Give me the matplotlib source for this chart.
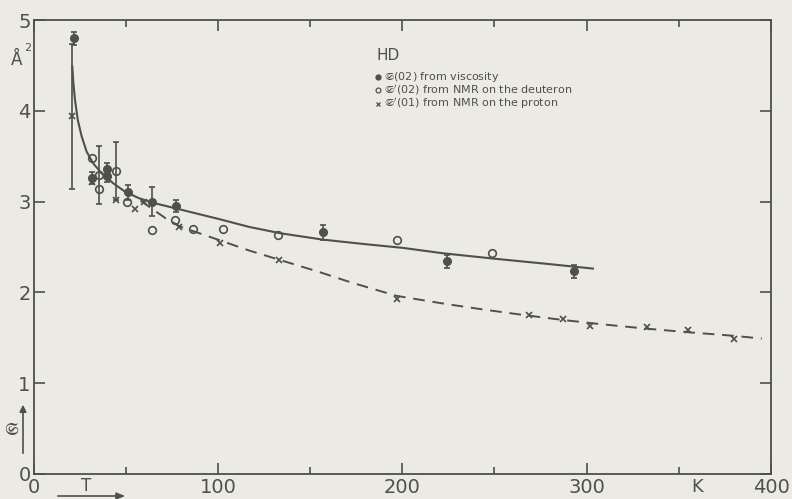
import numpy as np
import matplotlib
matplotlib.use("Agg")
import matplotlib.pyplot as plt
from matplotlib.lines import Line2D
from matplotlib.patches import FancyArrowPatch
from matplotlib.ticker import MultipleLocator

# ---------------- data ----------------
# viscosity (filled circles)
visc_T = [22, 31.5, 40, 40, 51, 64, 77.5, 157, 224, 293]
visc_S = [4.80, 3.26, 3.36, 3.28, 3.10, 3.00, 2.95, 2.66, 2.34, 2.23]
visc_err = [0.07, 0.07, 0.06, 0.06, 0.08, 0.16, 0.07, 0.08, 0.07, 0.07]

# NMR on the deuteron (open circles)
deut_T = [31.5, 35.5, 35.5, 44.7, 50.5, 64, 77, 86.5, 103, 132.5, 197, 248.5]
deut_S = [3.48, 3.29, 3.14, 3.34, 2.99, 2.69, 2.80, 2.70, 2.70, 2.63, 2.58, 2.43]
deut_err = [0, 0.32, 0, 0.32, 0, 0, 0, 0, 0, 0, 0, 0]

# NMR on the proton (crosses)
prot_T = [21, 31.5, 44.7, 55, 60, 79, 101, 133, 197, 269, 287, 302, 333, 355, 380]
prot_S = [3.94, 3.22, 3.02, 2.92, 3.00, 2.72, 2.54, 2.36, 1.93, 1.75, 1.71, 1.63, 1.62, 1.58, 1.49]
prot_err = [0.80, 0, 0, 0, 0, 0, 0, 0, 0, 0, 0, 0, 0, 0, 0]

# solid curve (viscosity)
fit1_T = [21.0, 21.6, 22.5, 24, 26.1, 28.8, 32.4, 37, 43.3, 49.6, 56.8, 64, 80, 100,
          117, 134, 157, 180, 200, 222, 250, 280, 304]
fit1_S = [4.50, 4.31, 4.12, 3.90, 3.72, 3.55, 3.42, 3.31, 3.20, 3.11, 3.04, 2.99, 2.91, 2.81,
          2.72, 2.65, 2.58, 2.53, 2.49, 2.43, 2.37, 2.31, 2.26]

# dashed curve (proton)
fit2_T = [58, 65, 72, 80, 90, 100, 117, 133, 154, 172, 197, 224, 244, 262, 285, 307,
          332, 355, 380, 395]
fit2_S = [3.01, 2.91, 2.81, 2.72, 2.65, 2.58, 2.46, 2.36, 2.23, 2.11, 1.96, 1.87, 1.81,
          1.76, 1.70, 1.65, 1.60, 1.56, 1.52, 1.49]

xticks = [0, 100, 200, 300, 400]
yticks = [0, 1, 2, 3, 4, 5]
labels = [r"$\mathfrak{S}$(02) from viscosity",
          r"$\mathfrak{S}'$(02) from NMR on the deuteron",
          r"$\mathfrak{S}'$(01) from NMR on the proton"]

# ---------------- style ----------------
BG = "#ecebe3"
INK = "#4f4f4b"
W, H = 792, 499

fig = plt.figure(figsize=(W / 100, H / 100), dpi=100, facecolor=BG)
ax = fig.add_axes([33.5 / W, 1 - 473.8 / H, (771 - 33.5) / W, (473.8 - 20) / H])
ax.set_facecolor(BG)

def fx(px):
    return px / W

def fy(py):
    return 1 - py / H

# curves
ax.plot(fit1_T, fit1_S, color=INK, lw=1.5, solid_capstyle="butt")
ax.plot(fit2_T, fit2_S, color=INK, lw=1.4, linestyle=(0, (6, 4)))

# error bars
vT, vS, vE = map(np.asarray, (visc_T, visc_S, visc_err))
dT, dS, dE = map(np.asarray, (deut_T, deut_S, deut_err))
pT, pS, pE = map(np.asarray, (prot_T, prot_S, prot_err))

ax.errorbar(vT, vS, yerr=vE, fmt="none", ecolor=INK, elinewidth=1.2, capsize=2.5, capthick=1.2)
m = dE > 0
ax.errorbar(dT[m], dS[m], yerr=dE[m], fmt="none", ecolor=INK, elinewidth=1.2, capsize=2.5, capthick=1.2)
m = pE > 0
ax.errorbar(pT[m], pS[m], yerr=pE[m], fmt="none", ecolor=INK, elinewidth=1.2, capsize=2.5, capthick=1.2)

# markers
ax.plot(vT, vS, "o", color=INK, ms=5.5, mec=INK)
ax.plot(dT, dS, "o", mfc="none", mec=INK, ms=5.5, mew=1.2)
ax.plot(pT, pS, "x", color=INK, ms=4.5, mew=1.2)

# axes
ax.set_xlim(0, 400)
ax.set_ylim(0, 5)
ax.set_xticks(xticks)
ax.set_yticks(yticks)
ax.xaxis.set_minor_locator(MultipleLocator(50))
for s in ax.spines.values():
    s.set_color(INK)
    s.set_linewidth(1.3)
ax.tick_params(which="both", direction="in", top=True, right=True, color=INK, width=1.2)
ax.tick_params(which="major", length=8, labelsize=14, labelcolor=INK)
ax.tick_params(which="minor", length=5)
ax.tick_params(axis="x", pad=3)
ax.tick_params(axis="y", pad=2)

# legend (manual)
fig.text(fx(376), fy(56), "HD", fontsize=11, color=INK, ha="left", va="center")
leg_y = [76.5, 90, 103.5]
styles = [dict(marker="o", color=INK, ms=3.5, linestyle="none"),
          dict(marker="o", mfc="none", mec=INK, ms=3.5, mew=0.9, linestyle="none"),
          dict(marker="x", color=INK, ms=3.2, mew=0.9, linestyle="none")]
for yy, lab, st in zip(leg_y, labels, styles):
    fig.add_artist(Line2D([fx(377.5)], [fy(yy)], transform=fig.transFigure, **st))
    fig.text(fx(384), fy(yy), lab, fontsize=8, color=INK, ha="left", va="center")

# unit / axis annotations
fig.text(fx(17), fy(60), "Å", fontsize=12, color=INK, ha="center", va="center")
fig.text(fx(28), fy(48), "2", fontsize=8, color=INK, ha="center", va="center")
fig.text(fx(12), fy(430), r"$\mathfrak{S}$", fontsize=12, color=INK, ha="center", va="center")
fig.add_artist(FancyArrowPatch((fx(23), fy(456)), (fx(23), fy(402)), transform=fig.transFigure,
                               arrowstyle="-|>,head_length=4,head_width=2", color=INK, lw=1.2))
fig.text(fx(86), fy(486), "T", fontsize=12, color=INK, ha="center", va="center")
fig.add_artist(FancyArrowPatch((fx(55), fy(496)), (fx(128), fy(496)), transform=fig.transFigure,
                               arrowstyle="-|>,head_length=5,head_width=2", color=INK, lw=1.2))
fig.text(fx(697), fy(487), "K", fontsize=13, color=INK, ha="center", va="center")

fig.savefig("out.png", dpi=100, facecolor=BG)
